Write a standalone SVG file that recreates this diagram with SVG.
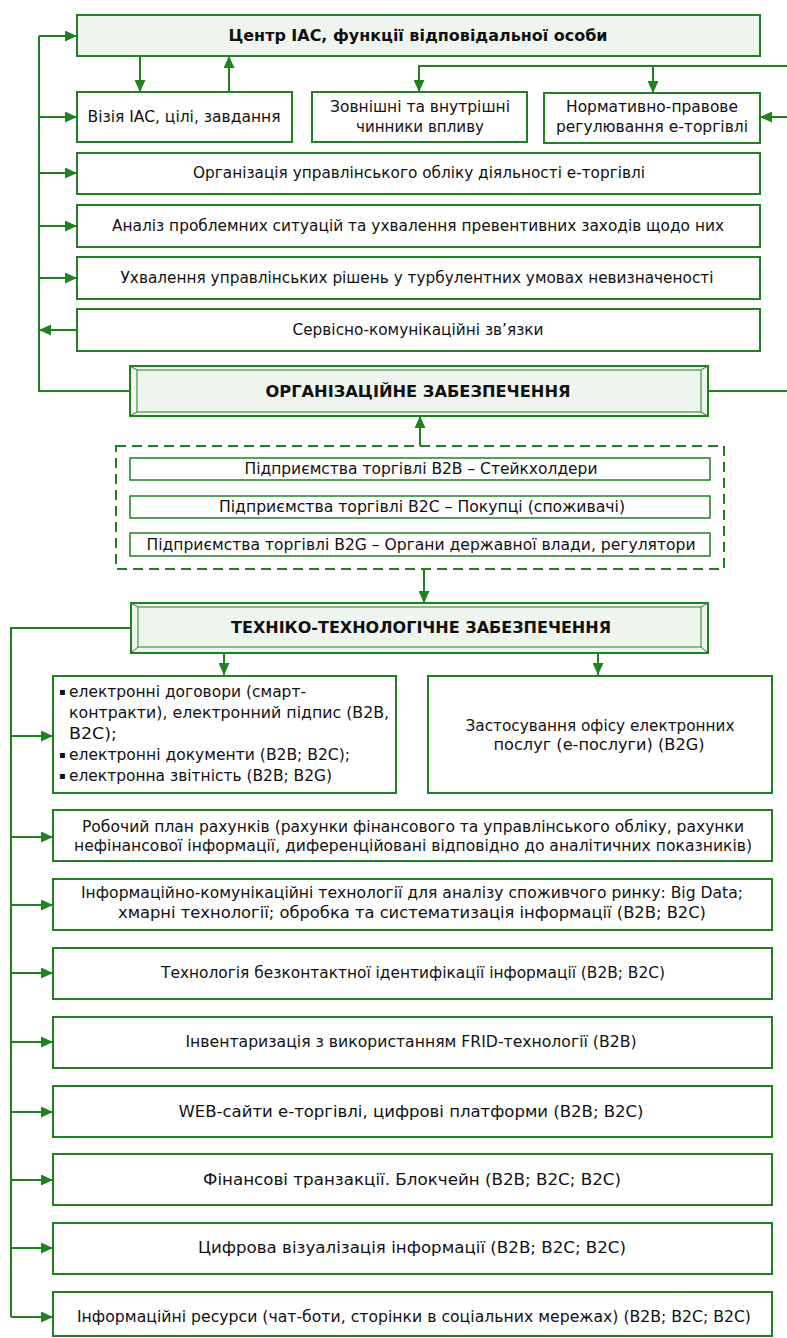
<svg xmlns="http://www.w3.org/2000/svg" width="787" height="1338" viewBox="0 0 787 1338">
<style>
.box{fill:#ffffff;stroke:#218121;stroke-width:2}
.hbox{fill:#eef5ef;stroke:#218121;stroke-width:2}
.thin{fill:#ffffff;stroke:#218121;stroke-width:1.5}
.bev{fill:none;stroke:#218121;stroke-width:1}
.dash{fill:none;stroke:#218121;stroke-width:2;stroke-dasharray:10,6}
.ln{fill:none;stroke:#218121;stroke-width:2}
.arr{fill:none;stroke:#218121;stroke-width:2;marker-end:url(#ah)}
text{font-family:"DejaVu Sans","Liberation Sans",sans-serif;font-size:15px;fill:#111}
.c{text-anchor:middle}
.b{font-weight:bold;font-size:16px}
.bul{font-size:10px}
</style>
<defs>
<marker id="ah" markerUnits="userSpaceOnUse" markerWidth="12" markerHeight="11" refX="12" refY="5.5" orient="auto">
<path d="M0,0 L12,5.5 L0,11 z" fill="#218121"/>
</marker>
</defs>

<g id="connectors">
<polyline class="ln" points="129,391 39,391 39,36"/>
<line class="arr" x1="39" y1="36" x2="77" y2="36"/>
<line class="arr" x1="39" y1="117" x2="77" y2="117"/>
<line class="arr" x1="39" y1="173" x2="77" y2="173"/>
<line class="arr" x1="39" y1="226" x2="77" y2="226"/>
<line class="arr" x1="39" y1="278" x2="77" y2="278"/>
<line class="arr" x1="77" y1="330" x2="39" y2="330"/>
<line class="arr" x1="140" y1="56" x2="140" y2="92"/>
<line class="arr" x1="229" y1="92" x2="229" y2="56"/>
<polyline class="ln" points="787,66 419,66 419,80"/>
<line class="arr" x1="419" y1="66" x2="419" y2="92"/>
<line class="arr" x1="653" y1="66" x2="653" y2="93"/>
<line class="arr" x1="787" y1="117" x2="760" y2="117"/>
<line class="ln" x1="708" y1="391" x2="787" y2="391"/>
<line class="arr" x1="420" y1="446" x2="420" y2="416"/>
<line class="arr" x1="424" y1="569" x2="424" y2="603"/>
<line class="arr" x1="224" y1="653" x2="224" y2="675"/>
<line class="arr" x1="598" y1="653" x2="598" y2="675"/>
<polyline class="ln" points="131,628 11,628 11,1317"/>
<line class="arr" x1="11" y1="736" x2="53" y2="736"/>
<line class="arr" x1="11" y1="837" x2="53" y2="837"/>
<line class="arr" x1="11" y1="905" x2="53" y2="905"/>
<line class="arr" x1="11" y1="973" x2="53" y2="973"/>
<line class="arr" x1="11" y1="1042" x2="53" y2="1042"/>
<line class="arr" x1="11" y1="1112" x2="53" y2="1112"/>
<line class="arr" x1="11" y1="1180" x2="53" y2="1180"/>
<line class="arr" x1="11" y1="1248" x2="53" y2="1248"/>
<line class="arr" x1="11" y1="1317" x2="53" y2="1317"/>
</g>

<g id="centre">
<rect class="hbox" x="77" y="15" width="683" height="41"/>
<text class="c b" x="418" y="41" textLength="379" lengthAdjust="spacingAndGlyphs">Центр IAC, функції відповідальної особи</text>
</g>
<g id="vision">
<rect class="box" x="77" y="92" width="215" height="50"/>
<text class="c" x="184" y="122" textLength="193" lengthAdjust="spacingAndGlyphs">Візія IAC, цілі, завдання</text>
</g>
<g id="factors">
<rect class="box" x="312" y="92" width="215" height="50"/>
<text class="c" x="420" y="112" textLength="180" lengthAdjust="spacingAndGlyphs">Зовнішні та внутрішні</text>
<text class="c" x="420" y="132" textLength="128" lengthAdjust="spacingAndGlyphs">чинники впливу</text>
</g>
<g id="regulation">
<rect class="box" x="544" y="93" width="216" height="50"/>
<text class="c" x="652" y="112" textLength="172" lengthAdjust="spacingAndGlyphs">Нормативно-правове</text>
<text class="c" x="652" y="132" textLength="192" lengthAdjust="spacingAndGlyphs">регулювання е-торгівлі</text>
</g>
<g id="accounting">
<rect class="box" x="77" y="153" width="683" height="41"/>
<text class="c" x="419" y="178" textLength="452" lengthAdjust="spacingAndGlyphs">Організація управлінського обліку діяльності е-торгівлі</text>
</g>
<g id="analysis">
<rect class="box" x="77" y="205" width="683" height="42"/>
<text class="c" x="418" y="231" textLength="612" lengthAdjust="spacingAndGlyphs">Аналіз проблемних ситуацій та ухвалення превентивних заходів щодо них</text>
</g>
<g id="decisions">
<rect class="box" x="77" y="257" width="683" height="42"/>
<text class="c" x="417" y="283" textLength="593" lengthAdjust="spacingAndGlyphs">Ухвалення управлінських рішень у турбулентних умовах невизначеності</text>
</g>
<g id="service">
<rect class="box" x="77" y="309" width="683" height="42"/>
<text class="c" x="418" y="335" textLength="251" lengthAdjust="spacingAndGlyphs">Сервісно-комунікаційні зв’язки</text>
</g>
<g id="org-support">
<rect class="hbox" x="130" y="366" width="578" height="50"/>
<rect class="bev" x="137" y="370" width="564" height="42" stroke-width="2"/>
<line class="bev" x1="130" y1="366" x2="137" y2="370"/>
<line class="bev" x1="708" y1="366" x2="701" y2="370"/>
<line class="bev" x1="130" y1="416" x2="137" y2="412"/>
<line class="bev" x1="708" y1="416" x2="701" y2="412"/>
<text class="c b" x="418" y="397" textLength="305" lengthAdjust="spacingAndGlyphs">ОРГАНІЗАЦІЙНЕ ЗАБЕЗПЕЧЕННЯ</text>
</g>
<g id="stakeholders">
<rect class="dash" x="116" y="446" width="608" height="123"/>
<rect class="thin" x="130" y="458" width="580" height="22"/>
<text class="c" x="421" y="474" textLength="353" lengthAdjust="spacingAndGlyphs">Підприємства торгівлі B2B – Стейкхолдери</text>
<rect class="thin" x="130" y="496" width="580" height="22"/>
<text class="c" x="422" y="512" textLength="406" lengthAdjust="spacingAndGlyphs">Підприємства торгівлі B2C – Покупці (споживачі)</text>
<rect class="thin" x="130" y="533" width="580" height="23"/>
<text class="c" x="421" y="550" textLength="549" lengthAdjust="spacingAndGlyphs">Підприємства торгівлі B2G – Органи державної влади, регулятори</text>
</g>
<g id="tech-support">
<rect class="hbox" x="131" y="603" width="577" height="50"/>
<rect class="bev" x="138" y="607" width="563" height="40" stroke-width="2"/>
<line class="bev" x1="131" y1="603" x2="138" y2="607"/>
<line class="bev" x1="708" y1="603" x2="701" y2="607"/>
<line class="bev" x1="131" y1="653" x2="138" y2="647"/>
<line class="bev" x1="708" y1="653" x2="701" y2="647"/>
<text class="c b" x="421" y="633" textLength="380" lengthAdjust="spacingAndGlyphs">ТЕХНІКО-ТЕХНОЛОГІЧНЕ ЗАБЕЗПЕЧЕННЯ</text>
</g>
<g id="e-documents">
<rect class="box" x="53" y="676" width="343" height="117"/>
<text class="bul" x="59" y="695">▪</text>
<text x="69" y="697" textLength="237" lengthAdjust="spacingAndGlyphs">електронні договори (смарт-</text>
<text x="69" y="718" textLength="320" lengthAdjust="spacingAndGlyphs">контракти), електронний підпис (B2B,</text>
<text x="69" y="739" textLength="48" lengthAdjust="spacingAndGlyphs">B2C);</text>
<text class="bul" x="59" y="758">▪</text>
<text x="69" y="760" textLength="281" lengthAdjust="spacingAndGlyphs">електронні документи (B2B; B2C);</text>
<text class="bul" x="59" y="779">▪</text>
<text x="69" y="781" textLength="263" lengthAdjust="spacingAndGlyphs">електронна звітність (B2B; B2G)</text>
</g>
<g id="e-services">
<rect class="box" x="428" y="676" width="344" height="117"/>
<text class="c" x="600" y="731" textLength="269" lengthAdjust="spacingAndGlyphs">Застосування офісу електронних</text>
<text class="c" x="599" y="750" textLength="211" lengthAdjust="spacingAndGlyphs">послуг (е-послуги) (B2G)</text>
</g>
<g id="chart-of-accounts">
<rect class="box" x="53" y="810" width="719" height="51"/>
<text class="c" x="413" y="832" textLength="662" lengthAdjust="spacingAndGlyphs">Робочий план рахунків (рахунки фінансового та управлінського обліку, рахунки</text>
<text class="c" x="413" y="851" textLength="678" lengthAdjust="spacingAndGlyphs">нефінансової інформації, диференційовані відповідно до аналітичних показників)</text>
</g>
<g id="ict">
<rect class="box" x="53" y="879" width="719" height="51"/>
<text class="c" x="412" y="898" textLength="662" lengthAdjust="spacingAndGlyphs">Інформаційно-комунікаційні технології для аналізу споживчого ринку: Big Data;</text>
<text class="c" x="412" y="918" textLength="588" lengthAdjust="spacingAndGlyphs">хмарні технології; обробка та систематизація інформації (B2B; B2C)</text>
</g>
<g id="contactless">
<rect class="box" x="53" y="948" width="719" height="51"/>
<text class="c" x="413" y="978" textLength="504" lengthAdjust="spacingAndGlyphs">Технологія безконтактної ідентифікації інформації (B2B; B2C)</text>
</g>
<g id="inventory">
<rect class="box" x="53" y="1017" width="719" height="51"/>
<text class="c" x="411" y="1047" textLength="451" lengthAdjust="spacingAndGlyphs">Інвентаризація з використанням FRID-технології (B2B)</text>
</g>
<g id="web">
<rect class="box" x="53" y="1086" width="719" height="51"/>
<text class="c" x="411" y="1117" textLength="465" lengthAdjust="spacingAndGlyphs">WEB-сайти е-торгівлі, цифрові платформи (B2B; B2C)</text>
</g>
<g id="finance">
<rect class="box" x="53" y="1154" width="719" height="51"/>
<text class="c" x="412" y="1185" textLength="418" lengthAdjust="spacingAndGlyphs">Фінансові транзакції. Блокчейн (B2B; B2C; B2C)</text>
</g>
<g id="visualisation">
<rect class="box" x="53" y="1223" width="719" height="51"/>
<text class="c" x="412" y="1253" textLength="428" lengthAdjust="spacingAndGlyphs">Цифрова візуалізація інформації (B2B; B2C; B2C)</text>
</g>
<g id="resources">
<rect class="box" x="53" y="1292" width="719" height="44"/>
<text class="c" x="414" y="1322" textLength="674" lengthAdjust="spacingAndGlyphs">Інформаційні ресурси (чат-боти, сторінки в соціальних мережах) (B2B; B2C; B2C)</text>
</g>
</svg>
